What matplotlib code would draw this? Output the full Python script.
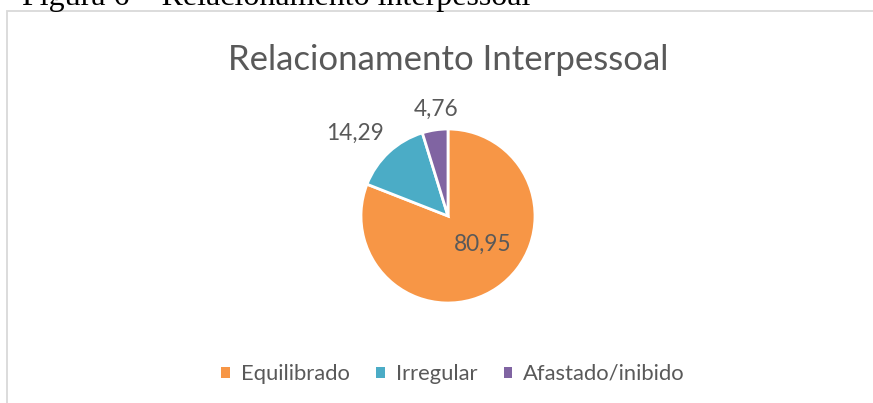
import matplotlib
matplotlib.use("Agg")
import matplotlib.pyplot as plt
from matplotlib.patches import Patch, Rectangle

# Data
categories = ["Equilibrado", "Irregular", "Afastado/inibido"]
values = [80.95, 14.29, 4.76]
value_labels = ["80,95", "14,29", "4,76"]
colors = ["#F79646", "#4BACC6", "#8064A2"]
title = "Relacionamento Interpessoal"
caption = "Figura 6 – Relacionamento interpessoal"

# Label anchor positions (in pie radius units)
label_pos = [(0.40, -0.33), (-1.07, 0.95), (-0.14, 1.23)]

W, H = 873, 403
fig = plt.figure(figsize=(W / 100, H / 100), dpi=100)
fig.patch.set_facecolor("white")

text_color = "#595959"
font = ["Lato", "DejaVu Sans"]

# Caption above the chart frame
fig.text(22 / W, 1 - 5 / H, caption, family=["Liberation Serif"], fontsize=23,
         color="black", ha="left", va="baseline")

# Chart frame
frame = Rectangle((7 / W, -0.05), 1.2, 1 - 11 / H + 0.05, transform=fig.transFigure,
                  fill=False, edgecolor="#D9D9D9", linewidth=1.3)
fig.patches.append(frame)

# Title
fig.text(448 / W, 1 - 70 / H, title, family=font, fontsize=25, color=text_color,
         ha="center", va="baseline")

# Pie
cx, cy, r = 448, 216, 87
ax = fig.add_axes([(cx - r) / W, (H - cy - r) / H, 2 * r / W, 2 * r / H])
wedges, _ = ax.pie(values, colors=colors, startangle=90, counterclock=False,
                   radius=1.0, wedgeprops=dict(edgecolor="white", linewidth=2))
ax.set_xlim(-1, 1)
ax.set_ylim(-1, 1)
ax.set_aspect("equal")
ax.axis("off")
for (lx, ly), txt in zip(label_pos, value_labels):
    ax.text(lx, ly, txt, family=font, fontsize=16.3, color=text_color,
            ha="center", va="center", clip_on=False)

# Legend
handles = [Patch(facecolor=c, edgecolor="none") for c in colors]
fig.legend(handles, categories, loc="center", bbox_to_anchor=(453 / W, 1 - 374 / H),
           ncol=3, frameon=False, prop={"family": font, "size": 15.8},
           labelcolor=text_color, handlelength=0.4, handleheight=0.4,
           handletextpad=0.5, columnspacing=1.2)

fig.savefig("out.png", dpi=100, facecolor="white")
